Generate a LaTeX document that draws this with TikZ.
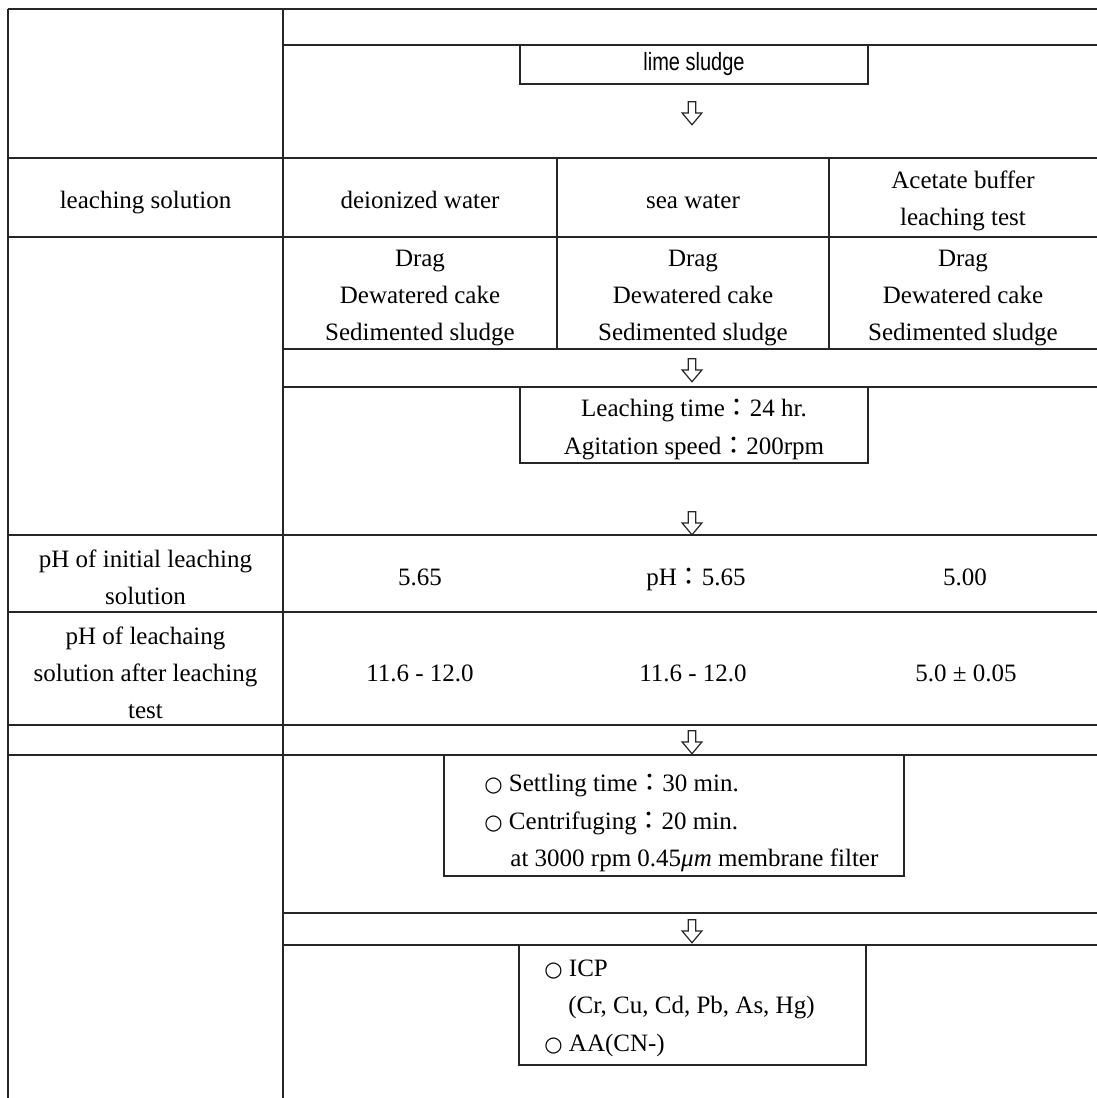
\documentclass[tikz,border=0pt]{standalone}
\usepackage{fontspec}
\setmainfont{Liberation Serif}
\newfontfamily\sansfnt[FakeStretch=0.8]{Liberation Sans}
\newfontfamily\symfnt{DejaVu Sans}
\newfontfamily\cjkfnt{Noto Sans CJK TC}
\usetikzlibrary{shapes.arrows}
\newcommand\fcolon{{\cjkfnt ：}}
\newcommand\wcirc{{\symfnt\fontsize{10.5pt}{10pt}\selectfont ○}}
\begin{document}
\begin{tikzpicture}[x=0.5pt,y=-0.5pt,
  rule/.style={line width=0.75pt, black!85},
  cell/.style={font=\fontsize{12.5pt}{18.5pt}\selectfont, align=center, inner sep=0pt},
  vcell/.style={cell, text height=8.5pt, text depth=3pt},
  lcell/.style={font=\fontsize{12.5pt}{18.8pt}\selectfont, align=left, inner sep=0pt, anchor=west},
  procbox/.style={draw=black!85, line width=0.75pt, inner sep=0pt, text=black},
  downarrow/.style={single arrow, draw=black!85, line width=0.6pt, rotate=-90,
    minimum height=11.5pt, minimum width=9.5pt, single arrow head extend=3pt,
    single arrow tip angle=80, inner xsep=0pt, inner ysep=1.6pt}
]
\fill[white] (0,0) rectangle (1097,1098);
\useasboundingbox (0,0) rectangle (1097,1098);
% table rules
\draw[rule] (8,9) -- (1097,9);
\draw[rule] (8,9) -- (8,1098);
\draw[rule] (283,9) -- (283,1098);
\draw[rule] (283,45) -- (1097,45);
\draw[rule] (8,158) -- (1097,158);
\draw[rule] (8,237) -- (1097,237);
\draw[rule] (557,158) -- (557,349);
\draw[rule] (829,158) -- (829,349);
\draw[rule] (283,349) -- (1097,349);
\draw[rule] (283,387) -- (1097,387);
\draw[rule] (8,535) -- (1097,535);
\draw[rule] (8,612) -- (1097,612);
\draw[rule] (8,725) -- (1097,725);
\draw[rule] (8,755) -- (1097,755);
\draw[rule] (283,913) -- (1097,913);
\draw[rule] (283,945) -- (1097,945);

% process boxes
\node[procbox, minimum width=174pt, minimum height=19.5pt,
  font=\sansfnt\fontsize{12.5pt}{12pt}\selectfont] (lime) at (694,64.5) {lime sludge};
\node[procbox, minimum width=174pt, minimum height=38pt] (leach) at (694,425) {};
\node[cell, font=\fontsize{12.5pt}{19pt}\selectfont] (leachtxt) at (694,430)
  {Leaching time\fcolon 24 hr.\\Agitation speed\fcolon 200rpm};
\node[procbox, minimum width=230pt, minimum height=60.5pt] (settle) at (674,815.5) {};
\node[lcell] (settletxt) at (484,823)
  {\wcirc\ Settling time\fcolon 30 min.\\
   \wcirc\ Centrifuging\fcolon 20 min.\\
   \hspace*{13pt}at 3000 rpm 0.45{\itshape μm} membrane filter};
\node[procbox, minimum width=173.5pt, minimum height=60pt] (icp) at (692.5,1005) {};
\node[lcell] (icptxt) at (544,1008)
  {\wcirc\ ICP\\
   \hspace*{12pt}(Cr, Cu, Cd, Pb, As, Hg)\\
   \wcirc\ AA(CN-)};

% arrows
\node[downarrow] (a1) at (692,111) {};
\node[downarrow] (a2) at (692,368) {};
\node[downarrow] (a3) at (692,521) {};
\node[downarrow] (a4) at (692,740) {};
\node[downarrow] (a5) at (692,929) {};

% left column labels
\node[vcell] (lsol) at (145.5,203) {leaching solution};
\node[cell] (phi) at (145.5,577) {pH of initial leaching\\solution};
\node[cell] (pha) at (145.5,673) {pH of leachaing\\solution after leaching\\test};

% header row
\node[vcell] (h1) at (420,203) {deionized water};
\node[vcell] (h2) at (693,203) {sea water};
\node[cell] (h3) at (963,201) {Acetate buffer\\leaching test};

% sample row
\node[cell] (m1) at (420,298) {Drag\\Dewatered cake\\Sedimented sludge};
\node[cell] (m2) at (693,298) {Drag\\Dewatered cake\\Sedimented sludge};
\node[cell] (m3) at (963,298) {Drag\\Dewatered cake\\Sedimented sludge};

% pH rows
\node[vcell] (v11) at (420,580) {5.65};
\node[vcell] (v12) at (696,580) {pH\fcolon 5.65};
\node[vcell] (v13) at (965,580) {5.00};
\node[vcell] (v21) at (420,676) {11.6 - 12.0};
\node[vcell] (v22) at (693,676) {11.6 - 12.0};
\node[vcell] (v23) at (966,676) {5.0 ± 0.05};
\end{tikzpicture}
\end{document}
